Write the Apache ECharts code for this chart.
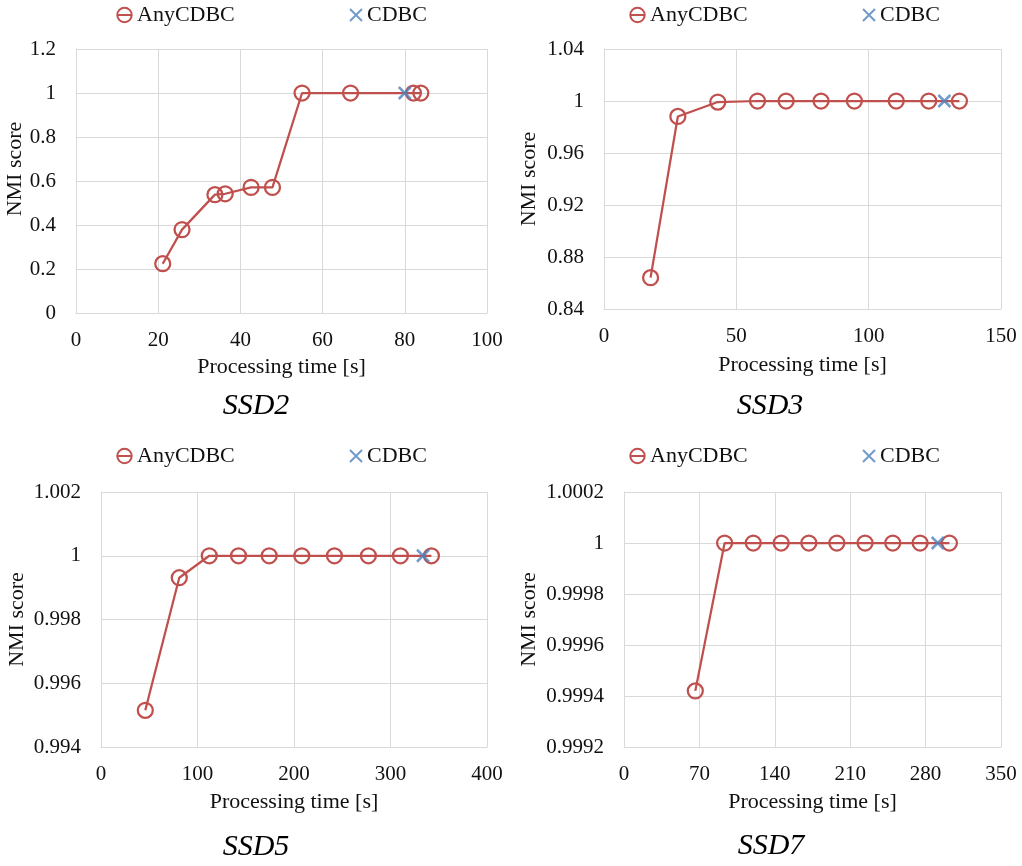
<!DOCTYPE html>
<html>
<head>
<meta charset="utf-8">
<title>NMI score vs processing time</title>
<script src="https://cdn.jsdelivr.net/npm/echarts@6/dist/echarts.min.js"></script>
<style>
  html, body { margin: 0; padding: 0; background: #fff; }
  #chart { width: 1022px; height: 866px; }
</style>
</head>
<body>
<div id="chart"></div>
<script>
// SSD2
const ssd2Time = [21.1, 25.8, 33.8, 36.3, 42.6, 47.8, 55.0, 66.8, 82.1, 83.9]
const ssd2Nmi = [0.224, 0.379, 0.538, 0.542, 0.571, 0.571, 1, 1, 1, 1]
const ssd2CdbcTime = [80.0]
const ssd2CdbcNmi = [1]
// SSD3
const ssd3Time = [17.6, 27.9, 43.0, 58.0, 68.8, 82.0, 94.6, 110.4, 122.7, 134.3]
const ssd3Nmi = [0.8641, 0.9881, 0.9992, 1, 1, 1, 1, 1, 1, 1]
const ssd3CdbcTime = [128.6]
const ssd3CdbcNmi = [1]
// SSD5
const ssd5Time = [45.9, 81.1, 112.2, 142.5, 174.3, 208.1, 241.9, 277.1, 310.3, 342.4]
const ssd5Nmi = [0.99515, 0.99931, 1, 1, 1, 1, 1, 1, 1, 1]
const ssd5CdbcTime = [333.7]
const ssd5CdbcNmi = [1]
// SSD7
const ssd7Time = [66.2, 93.4, 120.0, 145.9, 171.6, 197.6, 223.8, 249.5, 274.9, 302.1]
const ssd7Nmi = [0.99942, 1, 1, 1, 1, 1, 1, 1, 1, 1]
const ssd7CdbcTime = [291.3]
const ssd7CdbcNmi = [1]

// 轴范围
const panelNames = ['SSD2', 'SSD3', 'SSD5', 'SSD7']
const xMax = [100, 150, 400, 350]
const xStep = [20, 50, 100, 70]
const yMin = [0, 0.84, 0.994, 0.9992]
const yMax = [1.2, 1.04, 1.002, 1.0002]
const yStep = [0.2, 0.04, 0.002, 0.0002]

const anyTimes = [ssd2Time, ssd3Time, ssd5Time, ssd7Time]
const anyNmis = [ssd2Nmi, ssd3Nmi, ssd5Nmi, ssd7Nmi]
const cdbcTimes = [ssd2CdbcTime, ssd3CdbcTime, ssd5CdbcTime, ssd7CdbcTime]
const cdbcNmis = [ssd2CdbcNmi, ssd3CdbcNmi, ssd5CdbcNmi, ssd7CdbcNmi]

const RED = '#C0504D'
const BLUE = '#4F81BD'
const GRID_LINE = '#d9d9d9'
const FONT = 'Liberation Serif'
const X_PATH = 'path://M0,0L10,10M10,0L0,10'

// 每个子图的位置
const layout = [
  { left: 76, top: 49, width: 411, height: 264, nameGapX: 43, nameGapY: 49, nameShift: 24, titleX: 256, titleY: 391, legendY: 13, legendX: [123, 355] },
  { left: 604, top: 49, width: 397, height: 260, nameGapX: 45, nameGapY: 64, nameShift: 0, titleX: 770, titleY: 391, legendY: 13, legendX: [636, 868] },
  { left: 101, top: 492, width: 386, height: 255, nameGapX: 44, nameGapY: 73, nameShift: 0, titleX: 256, titleY: 832, legendY: 454, legendX: [123, 355] },
  { left: 624, top: 492, width: 377, height: 255, nameGapX: 44, nameGapY: 84, nameShift: 0, titleX: 771, titleY: 831, legendY: 454, legendX: [636, 868] }
]

const grids = []
const xAxes = []
const yAxes = []
const series = []
const legends = []
const titles = []

layout.forEach((p, i) => {
  grids.push({ left: p.left, top: p.top, width: p.width, height: p.height, containLabel: false })

  xAxes.push({
    type: 'value',
    gridIndex: i,
    min: 0,
    max: xMax[i],
    interval: xStep[i],
    name: 'Processing time [s]',
    nameLocation: 'middle',
    nameGap: p.nameGapX,
    nameTextStyle: { fontFamily: FONT, fontSize: 22, color: '#111' },
    axisLine: { show: true, lineStyle: { color: GRID_LINE, width: 1 } },
    axisTick: { show: false },
    axisLabel: { fontFamily: FONT, fontSize: 21, color: '#111', margin: 17 },
    splitLine: { show: true, lineStyle: { color: GRID_LINE, width: 1 } }
  })

  yAxes.push({
    type: 'value',
    gridIndex: i,
    min: yMin[i],
    max: yMax[i],
    interval: yStep[i],
    name: 'NMI score',
    nameLocation: 'middle',
    nameGap: p.nameGapY,
    nameTextStyle: { fontFamily: FONT, fontSize: 22, color: '#111', padding: [0, 0, 0, p.nameShift] },
    axisLine: { show: true, lineStyle: { color: GRID_LINE, width: 1 } },
    axisTick: { show: false },
    axisLabel: { fontFamily: FONT, fontSize: 21, color: '#111', margin: 20 },
    splitLine: { show: true, lineStyle: { color: GRID_LINE, width: 1 } }
  })

  series.push({
    name: 'AnyCDBC',
    type: 'line',
    xAxisIndex: i,
    yAxisIndex: i,
    data: anyTimes[i].map((t, k) => [t, anyNmis[i][k]]),
    symbol: 'circle',
    symbolSize: 15,
    showAllSymbol: true,
    lineStyle: { color: RED, width: 2.25 },
    itemStyle: { color: 'rgba(0,0,0,0)', borderColor: RED, borderWidth: 2.25 },
    animation: false
  })

  series.push({
    name: 'CDBC',
    type: 'scatter',
    xAxisIndex: i,
    yAxisIndex: i,
    data: cdbcTimes[i].map((t, k) => [t, cdbcNmis[i][k]]),
    symbol: X_PATH,
    symbolSize: 12,
    symbolKeepAspect: true,
    itemStyle: { color: 'rgba(0,0,0,0)', borderColor: BLUE, borderWidth: 2.5 },
    z: 3,
    animation: false
  })

  // 图例：每项单独放置
  legends.push({
    data: ['AnyCDBC'],
    left: p.legendX[0] - 7,
    top: p.legendY - 9,
    padding: 0,
    itemWidth: 15,
    itemHeight: 18,
    selectedMode: false,
    textStyle: { fontFamily: FONT, fontSize: 22, color: '#111' }
  })
  legends.push({
    data: ['CDBC'],
    left: p.legendX[1] - 6,
    top: p.legendY - 9,
    padding: 0,
    itemWidth: 12,
    itemHeight: 18,
    selectedMode: false,
    textStyle: { fontFamily: FONT, fontSize: 22, color: '#111' }
  })

  titles.push({
    text: panelNames[i],
    left: p.titleX,
    top: p.titleY,
    textAlign: 'center',
    padding: 0,
    textStyle: { fontFamily: FONT, fontSize: 30, fontStyle: 'italic', fontWeight: 'normal', color: '#000' }
  })
})

const chart = echarts.init(document.getElementById('chart'))
chart.setOption({
  backgroundColor: '#fff',
  animation: false,
  title: titles,
  legend: legends,
  grid: grids,
  xAxis: xAxes,
  yAxis: yAxes,
  series: series
})

window.addEventListener('resize', () => chart.resize())
</script>
</body>
</html>
